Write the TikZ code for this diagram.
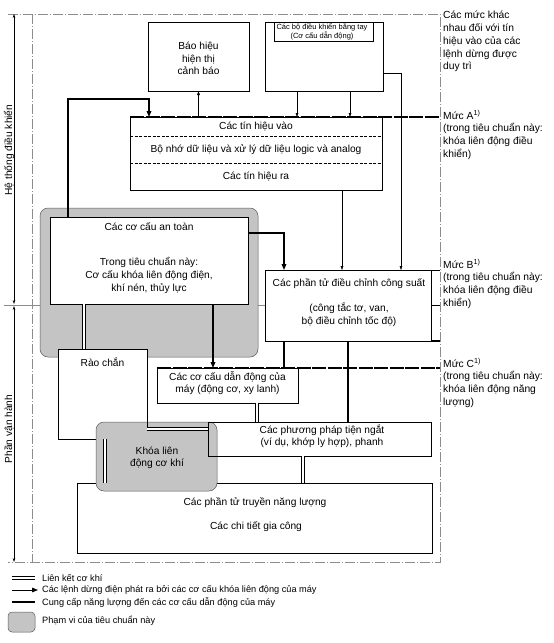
\documentclass[tikz,border=0pt]{standalone}
\usepackage{fontspec}
\setmainfont{Liberation Sans}
\usetikzlibrary{arrows.meta,calc}
\begin{document}
\begin{tikzpicture}[x=1pt,y=-1pt,
  box/.style={draw,line width=0.7pt,fill=white,inner sep=0pt,outer sep=0pt},
  txt/.style={font=\fontsize{10.2}{12.6}\selectfont,align=center,inner sep=0pt},
  smalltxt/.style={font=\fontsize{7.5}{9}\selectfont,align=center,inner sep=0pt},
  rtxt/.style={font=\fontsize{10.3}{12.8}\selectfont,align=left,inner sep=0pt,anchor=north west},
  ltxt/.style={font=\fontsize{9.2}{10}\selectfont,inner sep=0pt,anchor=west},
  scopearea/.style={fill=black!23,draw=black!65,line width=0.5pt,rounded corners=8pt},
  thinarrow/.style={line width=0.45pt,-{Triangle[length=4pt,width=2.6pt]}},
  stoparrow/.style={line width=1.3pt,-{Triangle[length=6pt,width=4.6pt]}},
  energy/.style={line width=1.3pt},
  mech/.style={double,double distance=1.5pt,line width=0.8pt},
  levelline/.style={line width=1.6pt,dash pattern=on 14pt off 1.5pt},
  frameline/.style={draw=black!45,line width=0.5pt,dash pattern=on 10pt off 2pt on 1pt off 2pt},
  dimline/.style={line width=0.4pt,{Stealth[length=4pt,width=2.6pt]}-{Stealth[length=4pt,width=2.6pt]}},
]
\useasboundingbox[fill=white] (0,0) rectangle (554,643);

% frame
\coordinate (fTL) at (8,14);
\coordinate (fTR) at (440,14);
\coordinate (fBL) at (8,562);
\coordinate (fBR) at (440,562);
\coordinate (fIT) at (32,14);
\coordinate (fIB) at (32,562);
\coordinate (dL) at (4,305);
\coordinate (dR) at (440,305);
\draw[frameline] (fTL) -- (fTR) -- (fBR) -- (fBL);
\draw[frameline] (fIT) -- (fIB);
\draw[draw=black!45,line width=0.4pt] (dL) -- (dR);

% dimension on the left
\coordinate (dimT) at (14,14);
\coordinate (dimM) at (14,305);
\coordinate (dimB) at (14,562);
\draw[dimline] (dimT) -- ([yshift=1pt]dimM);
\draw[dimline] ([yshift=-1pt]dimM) -- (dimB);
\node[txt,rotate=90] (lblctrl) at (9,150) {Hệ thống điều khiển};
\node[txt,rotate=90] (lblop) at (9,429) {Phần vận hành};

% scope area around safety devices
\path[scopearea] (40,208) rectangle (258,357);

% boxes
\node[box,minimum width=101pt,minimum height=69pt] (bao) at (198.5,56.5) {};
\node[txt] at (198.5,58.5) {Báo hiệu\\hiện thị\\cảnh báo};

\node[box,minimum width=118pt,minimum height=69pt] (manual) at (324,56.5) {};
\draw[line width=0.7pt] ([xshift=9pt]manual.north west) -- ++(0,19) -- ([xshift=-10pt,yshift=-19pt]manual.north east) -- ([xshift=-10pt]manual.north east);
\node[smalltxt] at (322,32) {Các bộ điều khiển bằng tay\\(Cơ cấu dẫn động)};

\node[box,minimum width=252pt,minimum height=73pt] (ctrl) at (256,153.5) {};
\draw[line width=0.5pt,dash pattern=on 3pt off 1.5pt] ([yshift=-19pt]ctrl.north west) -- ([yshift=-19pt]ctrl.north east);
\draw[line width=0.5pt,dash pattern=on 3pt off 1.5pt] ([yshift=27pt]ctrl.south west) -- ([yshift=27pt]ctrl.south east);
\node[txt] at (256,127) {Các tín hiệu vào};
\node[txt] at (256,150) {Bộ nhớ dữ liệu và xử lý dữ liệu logic và analog};
\node[txt] at (256,177) {Các tín hiệu ra};

\node[box,minimum width=198pt,minimum height=87pt] (safety) at (149,260.5) {};
\node[txt] at (149,227) {Các cơ cấu an toàn};
\node[txt,font=\fontsize{10.2}{13.4}\selectfont] at (149,275.5) {Trong tiêu chuẩn này:\\Cơ cấu khóa liên động điện,\\khí nén, thủy lực};

\node[box,minimum width=166pt,minimum height=71pt] (power) at (348,305.5) {};
\node[txt] at (349,284) {Các phần tử điều chỉnh công suất};
\node[txt,font=\fontsize{10.2}{13}\selectfont] at (349,314.5) {(công tắc tơ, van,\\bộ điều chỉnh tốc độ)};

\node[box,minimum width=355pt,minimum height=70pt] (trans) at (254.5,518) {};
\node[txt] at (255,503) {Các phần tử truyền năng lượng};
\node[txt] at (256,527) {Các chi tiết gia công};

\node[box,minimum width=89pt,minimum height=90pt] (barrier) at (102.5,394) {};
\node[txt] at (102.5,362) {Rào chắn};

\node[box,minimum width=141pt,minimum height=35pt] (act) at (227.5,385.5) {};
\node[txt,font=\fontsize{10.2}{12}\selectfont] at (227.5,383) {Các cơ cấu dẫn động của\\máy (động cơ, xy lanh)};

\node[box,minimum width=223pt,minimum height=34pt] (intr) at (319.5,439) {};

% scope area: mechanical interlock
\path[scopearea] (96,422) rectangle (217,491);
\draw[line width=0.7pt] (intr.north west) rectangle (intr.south east);
\draw[line width=0.7pt] (barrier.north east) -- ([yshift=-80pt]barrier.north east);
\node[txt,font=\fontsize{10.2}{12}\selectfont] at (322,436) {Các phương pháp tiện ngắt\\(ví dụ, khớp ly hợp), phanh};
\node[txt,font=\fontsize{10.2}{12}\selectfont] at (157,458) {Khóa liên\\động cơ khí};

% connectors: signals
\draw[thinarrow] (bao.south |- ctrl.north) -- (bao.south);
\draw[thinarrow] ([xshift=32pt]manual.south west) -- ([xshift=32pt]manual.south west |- ctrl.north);
\draw[thinarrow] ([xshift=85pt]manual.south west) -- ([xshift=85pt]manual.south west |- ctrl.north);
\draw[thinarrow] ([yshift=-16.5pt]manual.east) -| ([xshift=-30pt]power.north east);
\draw[thinarrow] ([xshift=-6pt]power.north |- ctrl.south) -- ([xshift=-6pt]power.north);

% stop commands
\draw[stoparrow] ([xshift=18pt]safety.north west) -- ++(0,-118) -| ([xshift=19pt]ctrl.north west);
\draw[stoparrow] ([yshift=27.5pt]safety.east) -| ([xshift=19pt]power.north west);
\draw[stoparrow] ([xshift=-14.5pt]act.north |- safety.south) -- ([xshift=-14.5pt]act.north);

% energy supply
\draw[energy] ([xshift=19pt]power.south west) -- ([xshift=19pt]power.south west |- act.north);
\draw[energy] (power.south) -- (power.south |- intr.north);

% mechanical links
\draw[mech] ([xshift=34pt]safety.south west) -- ([xshift=34pt]safety.south west |- barrier.north);
\draw[mech] ([xshift=100pt]act.south west) -- ([xshift=100pt]act.south west |- intr.north);
\draw[mech] ([xshift=95pt]intr.south west) -- ([xshift=95pt]intr.south west |- trans.north);
\draw[mech] ([yshift=-80pt]barrier.north east) -- ([yshift=-80pt]barrier.north east -| intr.west);
\draw[mech] ([xshift=47pt]barrier.south west) -- ([xshift=47pt]barrier.south west |- trans.north);

% levels
\coordinate (lvA) at (440,117);
\coordinate (lvB) at (440,270);
\coordinate (lvBm) at (440,305.5);
\coordinate (lvBb) at (440,341);
\coordinate (lvC) at (440,368);
\draw[levelline] (ctrl.north west) -- (lvA);
\draw[line width=0.7pt] (power.north east) -- (lvB);
\draw[line width=0.5pt] (power.east) -- (lvBm);
\draw[line width=1.3pt] (power.south east) -- (lvBb);
\draw[levelline] (act.north west) -- (lvC);

\node[rtxt] (lvtitle) at (443,11) {Các mức khác\\nhau đối với tín\\hiệu vào của các\\lệnh dừng được\\duy trì};
\node[rtxt] (lvAt) at (443,110) {Mức A\textsuperscript{1)}\\(trong tiêu chuẩn này:\\khóa liên động điều\\khiển)};
\node[rtxt] (lvBt) at (443,259) {Mức B\textsuperscript{1)}\\(trong tiêu chuẩn này:\\khóa liên động điều\\khiển)};
\node[rtxt] (lvCt) at (443,358) {Mức C\textsuperscript{1)}\\(trong tiêu chuẩn này:\\khóa liên động năng\\lượng)};

% legend
\coordinate (lg1a) at (12,578); \coordinate (lg1b) at (35,578);
\coordinate (lg2a) at (12,590); \coordinate (lg2b) at (38,590);
\coordinate (lg3a) at (12,602); \coordinate (lg3b) at (35,602);
\draw[mech] (lg1a) -- (lg1b);
\draw[stoparrow,line width=1pt] (lg2a) -- (lg2b);
\draw[energy,line width=1.1pt] (lg3a) -- (lg3b);
\path[scopearea,rounded corners=4pt] (8,612) rectangle (35,632);
\node[ltxt] at (42,578) {Liên kết cơ khí};
\node[ltxt] at (42,590) {Các lệnh dừng điện phát ra bởi các cơ cấu khóa liên động của máy};
\node[ltxt] at (42,602) {Cung cấp năng lượng đến các cơ cấu dẫn động của máy};
\node[ltxt] at (42,621) {Phạm vi của tiêu chuẩn này};
\end{tikzpicture}
\end{document}
